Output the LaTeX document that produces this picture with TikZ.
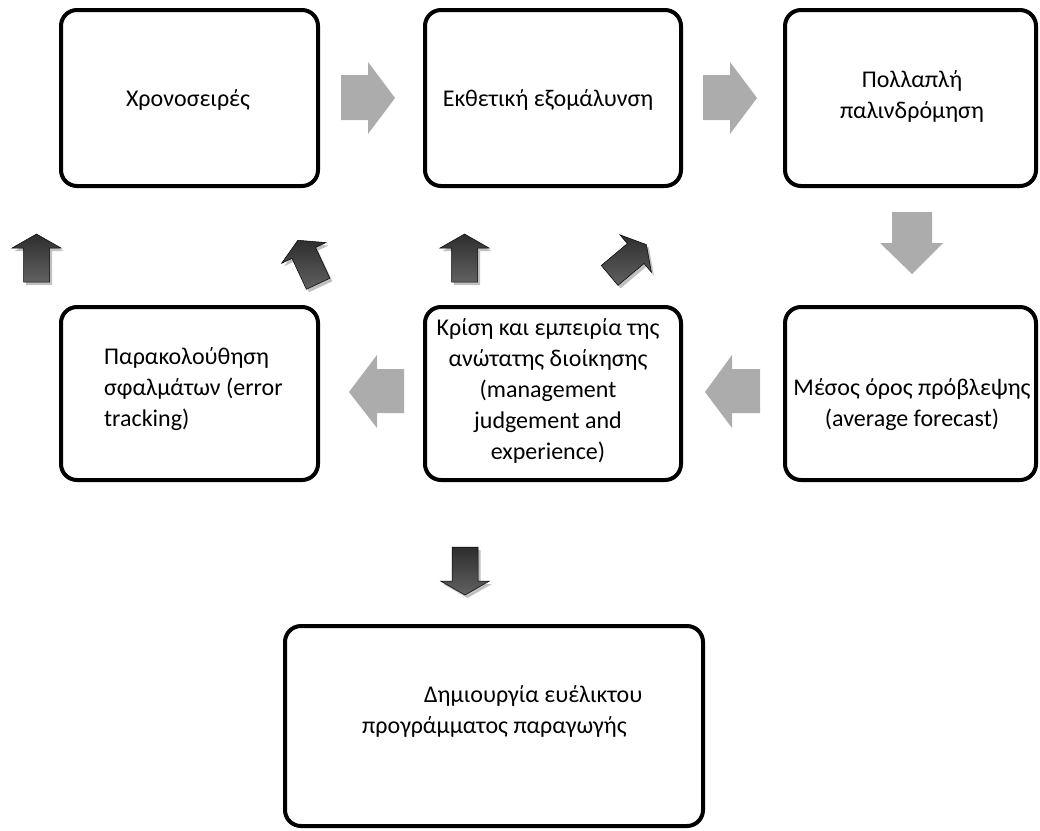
\documentclass[tikz,border=0pt]{standalone}
\usepackage{fontspec}
\setmainfont{Carlito}
\definecolor{arrowgray}{RGB}{172,172,172}
\begin{document}
\begin{tikzpicture}[x=1pt,y=-1pt,
  box/.style={draw=black, line width=4pt, rounded corners=16pt, fill=white},
  txt/.style={font=\fontsize{24}{31}\selectfont, align=center, inner sep=0pt},
  garrow/.style={fill=arrowgray, draw=none},
  darkarrow/.pic={
    \fill[black!45, opacity=.55, shift={(2.5,3)}, rotate=#1]
      (0,-24) -- (24.5,-10) -- (13,-10) -- (13,24) -- (-13,24) -- (-13,-10) -- (-24.5,-10) -- cycle;
    \shade[rotate=#1, shading angle=#1, top color=black!82, middle color=black, bottom color=black!62, draw=black, line width=.5pt]
      (0,-24) -- (24.5,-10) -- (13,-10) -- (13,24) -- (-13,24) -- (-13,-10) -- (-24.5,-10) -- cycle;
  }]
\useasboundingbox (0,0) rectangle (1040,830);

% boxes
\node[box, minimum width=257pt, minimum height=176pt] (b1) at (189.5,98) {};
\node[box, minimum width=256pt, minimum height=176pt] (b2) at (553,98) {};
\node[box, minimum width=251pt, minimum height=176pt] (b3) at (910.5,98) {};
\node[box, minimum width=257pt, minimum height=173pt] (b4) at (189.5,393.5) {};
\node[box, minimum width=256pt, minimum height=173pt] (b5) at (553,393.5) {};
\node[box, minimum width=251pt, minimum height=173pt] (b6) at (910.5,393.5) {};
\node[box, minimum width=418pt, minimum height=200pt] (b7) at (494,726) {};

% texts
\node[txt] (t1) at (188,100) {Χρονοσειρές};
\node[txt] (t2) at (548,100) {Εκθετική εξομάλυνση};
\node[txt] (t3) at (912,96) {Πολλαπλή\\παλινδρόμηση};
\node[txt, align=left, anchor=west] (t4) at (104,389) {Παρακολούθηση\\σφαλμάτων (error\\tracking)};
\node[txt] (t5) at (548,391) {Κρίση και εμπειρία της\\ανώτατης διοίκησης\\(management\\judgement and\\experience)};
\node[txt] (t6) at (912,405) {Μέσος όρος πρόβλεψης\\(average forecast)};
\node[txt, align=left, anchor=west] (t7) at (362,711) {\hspace*{62pt}Δημιουργία ευέλικτου\\προγράμματος παραγωγής};

% grey block arrows
\fill[garrow] (341,75) -- (368,75) -- (368,62) -- (395,98) -- (368,134) -- (368,120) -- (341,120) -- cycle;
\fill[garrow] (703,75) -- (730,75) -- (730,62) -- (757,98) -- (730,134) -- (730,120) -- (703,120) -- cycle;
\fill[garrow] (892,212) -- (932,212) -- (932,243) -- (943,243) -- (912,274) -- (880,243) -- (892,243) -- cycle;
\fill[garrow] (760,369) -- (732,369) -- (732,355) -- (705,392) -- (732,428) -- (732,413) -- (760,413) -- cycle;
\fill[garrow] (404,369) -- (377,369) -- (377,355) -- (349,392) -- (377,428) -- (377,413) -- (404,413) -- cycle;

% dark block arrows
\pic (d1) at (36.5,258) {darkarrow=0};
\pic (d2) at (308,262) {darkarrow=25};
\pic (d3) at (464.5,258) {darkarrow=0};
\pic (d4) at (628,260) {darkarrow=-50};
\pic (d5) at (465,571) {darkarrow=180};
\end{tikzpicture}
\end{document}
